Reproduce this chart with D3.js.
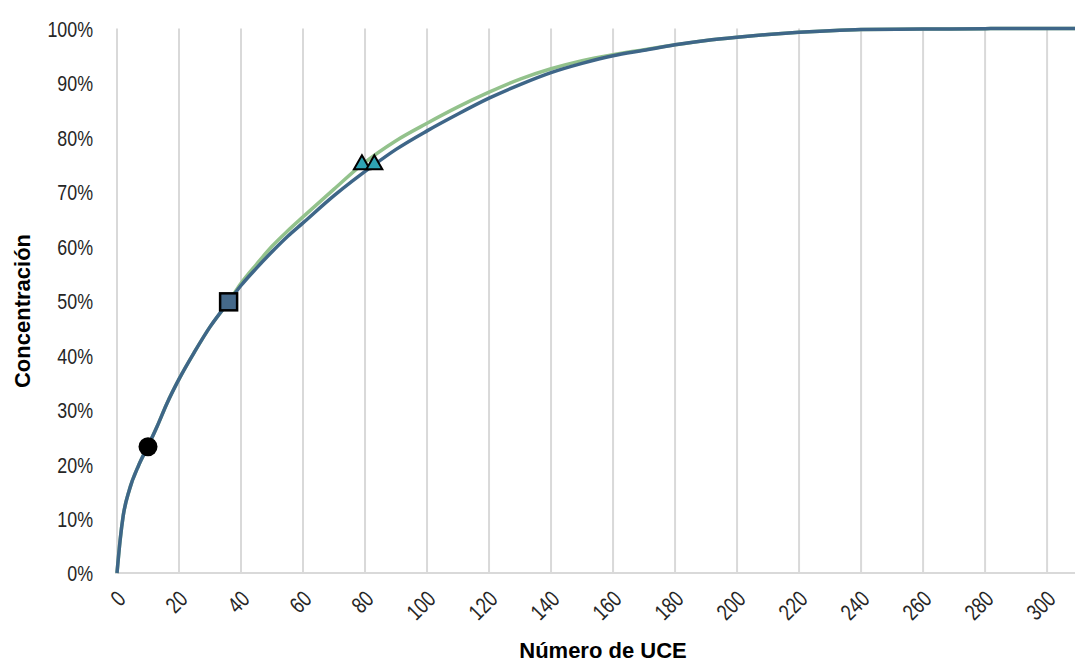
<!DOCTYPE html>
<html><head><meta charset="utf-8">
<script src="https://cdn.jsdelivr.net/npm/d3@7"></script>
<style>
html,body{margin:0;padding:0;background:#fff;}
svg{display:block;}
.tick text{font-family:"Liberation Sans Narrow","Arial Narrow","Liberation Sans",Arial,sans-serif;font-size:21px;fill:#262626;}
.title{font-family:"Liberation Sans",Arial,sans-serif;font-weight:bold;font-size:22px;fill:#000;}
</style></head>
<body>
<svg id="c" width="1075" height="664"></svg>
<script>
// x positions (Número de UCE) and cumulative concentration (%)
const xBlue = [0,1,2,4,7,10,13,16,20,25,30,36,40,45,50,55,60,70,83,90,100,110,120,130,140,150,160,170,180,190,200,210,220,230,240,260,280,285,309];
const yBlue = [0,6,10.5,15.3,19.8,23.3,27,31,35.6,40.6,45.2,49.8,52.8,56,59,61.8,64.3,69.3,75,77.8,81.2,84.3,87.2,89.7,91.9,93.6,95,96,97,97.8,98.4,98.9,99.3,99.6,99.8,99.9,99.97,100,100];
const xGreen = [0,1,2,4,7,10,13,16,20,25,30,36,40,45,50,55,60,70,79,90,100,110,120,130,140,150,160,170,180,190,200,210,220,230,240,260,280,285,309];
const yGreen = [0,6,10.5,15.3,19.8,23.3,27,31,35.6,40.6,45.2,49.8,53.2,56.7,60,62.8,65.4,70.5,75,79.4,82.6,85.6,88.3,90.7,92.6,94.1,95.2,96.1,97,97.8,98.4,98.9,99.3,99.6,99.8,99.9,99.97,100,100];
// highlighted points
const circlePt = [10, 23.2];
const squarePt = [36, 49.8];
const trianglePts = [[79, 75.2], [83, 75.2]];
const xTicks = [0,20,40,60,80,100,120,140,160,180,200,220,240,260,280,300];
const yTicks = [0,10,20,30,40,50,60,70,80,90,100];

const svg = d3.select("#c");
const x = d3.scaleLinear().domain([0,309]).range([117,1075]);
const y = d3.scaleLinear().domain([0,100]).range([573,28.5]);

// vertical gridlines
svg.append("g").selectAll("line").data(xTicks).join("line")
  .attr("x1",d=>x(d)).attr("x2",d=>x(d)).attr("y1",y(100)).attr("y2",y(0))
  .attr("stroke","#d9d9d9").attr("stroke-width",2);

// x axis
const xa = svg.append("g").attr("transform",`translate(0,${y(0)})`)
  .call(d3.axisBottom(x).tickValues(xTicks).tickSize(0).tickPadding(0));
xa.select(".domain").attr("stroke","#d9d9d9").attr("stroke-width",2).attr("d",`M115,0H1075`);
xa.selectAll(".tick text").attr("text-anchor","end").attr("dy",null).attr("y",0)
  .attr("transform","translate(4,22) rotate(-45) scale(0.85,1.08)").attr("dominant-baseline","central");

// y axis
const ya = svg.append("g").attr("transform","translate(93,0)")
  .call(d3.axisLeft(y).tickValues(yTicks).tickFormat(d=>d+"%").tickSize(0).tickPadding(0));
ya.select(".domain").remove();
ya.selectAll(".tick text").attr("dy","0.35em").attr("transform","scale(0.85,1.08)");

// lines
const line = d3.line().x(d=>x(d[0])).y(d=>y(d[1])).curve(d3.curveMonotoneX);
svg.append("path").datum(xGreen.map((v,i)=>[v,yGreen[i]])).attr("d",line)
  .attr("fill","none").attr("stroke","#93c28c").attr("stroke-width",3.5).attr("stroke-linejoin","round");
svg.append("path").datum(xBlue.map((v,i)=>[v,yBlue[i]])).attr("d",line)
  .attr("fill","none").attr("stroke","#3e6688").attr("stroke-width",3.5).attr("stroke-linejoin","round");

// markers
svg.append("circle").attr("cx",x(circlePt[0])).attr("cy",y(circlePt[1])).attr("r",9.5).attr("fill","#000");
svg.append("rect").attr("x",x(squarePt[0])-8.5).attr("y",y(squarePt[1])-8.5).attr("width",17).attr("height",17)
  .attr("fill","#45698a").attr("stroke","#000").attr("stroke-width",2.5);
svg.append("g").selectAll("path").data(trianglePts).join("path")
  .attr("d",d3.symbol(d3.symbolTriangle,110))
  .attr("transform",d=>`translate(${x(d[0])},${y(d[1])+1})`)
  .attr("fill","#2ea3b3").attr("stroke","#000").attr("stroke-width",2);

// axis titles
svg.append("text").attr("class","title").attr("x",603).attr("y",658).attr("text-anchor","middle").text("Número de UCE");
svg.append("text").attr("class","title").attr("transform","translate(30,311) rotate(-90)").attr("text-anchor","middle").text("Concentración");
</script>
</body></html>
